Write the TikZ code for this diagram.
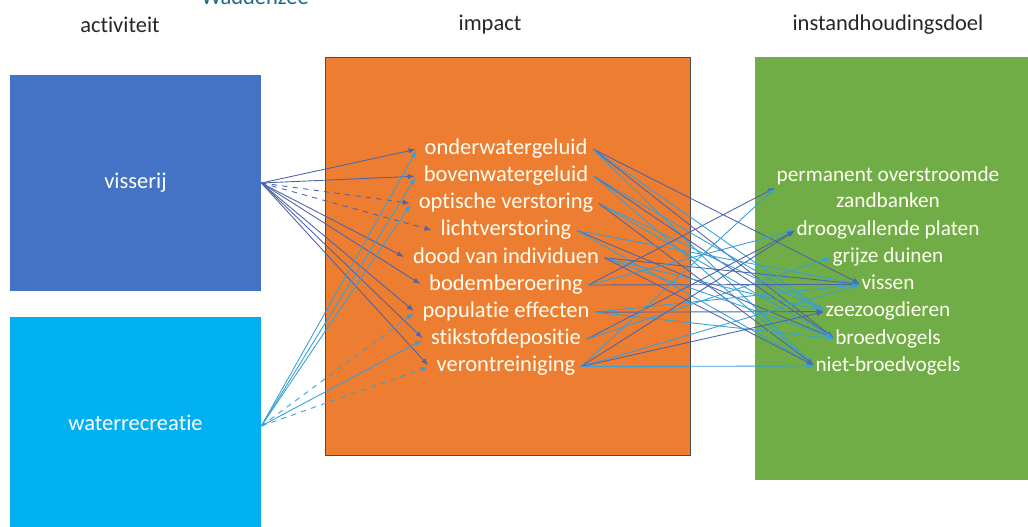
\documentclass[tikz,border=0pt]{standalone}
\usepackage{fontspec}
\setmainfont{Carlito}[Ligatures=NoCommon]
\setsansfont{Carlito}[Ligatures=NoCommon]
\usetikzlibrary{arrows.meta,positioning}
\definecolor{visblue}{RGB}{68,114,196}
\definecolor{recblue}{RGB}{0,176,240}
\definecolor{impactorange}{RGB}{237,125,49}
\definecolor{doelgreen}{RGB}{112,173,71}
\definecolor{headgray}{RGB}{38,38,38}
\definecolor{waddenteal}{RGB}{31,105,135}
\definecolor{vislink}{RGB}{78,100,170}
\definecolor{reclink}{RGB}{55,160,215}

\begin{document}
\begin{tikzpicture}[x=0.02cm, y=-0.02cm, font=\sffamily\fontsize{12.8}{14.7}\selectfont,
    head/.style={text=headgray},
    colbox/.style={rectangle, inner sep=0pt, text=white},
    item/.style={inner sep=0pt, text height=9pt, text depth=3pt, minimum height=0.53cm, text=white!95!yellow, align=center},
    doelitem/.style={item, font=\sffamily\fontsize{12.1}{14.7}\selectfont},
    link/.style={-{Latex[length=4pt,width=3pt]}, line width=0.5pt, shorten >=1pt}]
        \useasboundingbox (0,0) rectangle (1028,527);

        % headers
        \node[text=waddenteal] (wadden) at (255,-3) {Waddenzee};
        \node[head] (hact) at (120,25) {activiteit};
        \node[head] (himp) at (490,25) {impact};
        \node[head] (hdoel) at (888,25) {instandhoudingsdoel};

        % columns
        \node[colbox, fill=visblue, minimum width=5.02cm, minimum height=4.32cm] (vis) at (135.5,183) {visserij};
        \node[colbox, fill=recblue, minimum width=5.02cm, minimum height=4.36cm] (rec) at (135.5,426) {};
        \node[text=white] (reclabel) at (135.5,423) {waterrecreatie};
        \node[colbox, fill=impactorange, draw=gray!60!black, line width=0.4pt, minimum width=7.3cm, minimum height=7.96cm] (impact) at (507.5,256) {};
        \node[colbox, fill=doelgreen, minimum width=5.6cm, minimum height=8.46cm] (doel) at (895,268.5) {};

        % impact items
        \node[item] (imp1) at (506,149) {onderwatergeluid};
        \node[item, below=0pt of imp1] (imp2) {bovenwatergeluid};
        \node[item, below=0pt of imp2] (imp3) {optische verstoring};
        \node[item, below=0pt of imp3] (imp4) {lichtverstoring};
        \node[item, below=0pt of imp4] (imp5) {dood van individuen};
        \node[item, below=0pt of imp5] (imp6) {bodemberoering};
        \node[item, below=0pt of imp6] (imp7) {populatie effecten};
        \node[item, below=0pt of imp7] (imp8) {stikstofdepositie};
        \node[item, below=0pt of imp8] (imp9) {verontreiniging};

        % instandhoudingsdoelen
        \node[doelitem, text height=, text depth=] (doel1) at (888,187) {permanent overstroomde\\zandbanken};
        \node[doelitem] (doel2) at (888,230) {droogvallende platen};
        \node[doelitem, below=0pt of doel2] (doel3) {grijze duinen};
        \node[doelitem, below=0pt of doel3] (doel4) {vissen};
        \node[doelitem, below=0pt of doel4] (doel5) {zeezoogdieren};
        \node[doelitem, below=0pt of doel5] (doel6) {broedvogels};
        \node[doelitem, below=0pt of doel6] (doel7) {niet-broedvogels};

        % visserij -> impact
        \foreach \i/\s in {1/solid,2/solid,3/dashed,4/dashed,5/solid,6/solid,7/solid,8/solid,9/solid}
            \draw[link, vislink, \s] (vis.east) -- ([xshift=-4pt]imp\i.west);

        % waterrecreatie -> impact
        \foreach \i/\s in {1/solid,2/solid,3/solid,7/dashed,8/solid,9/dashed}
            \draw[link, reclink, \s] (rec.east) -- ([xshift=-4pt]imp\i.west);

        % impact -> instandhoudingsdoel
        \foreach \a/\b/\c in {1/4/vislink,1/5/reclink,1/6/vislink,1/7/reclink,
                              2/5/reclink,2/6/vislink,2/7/reclink,
                              3/5/reclink,3/6/reclink,3/7/vislink,
                              4/4/reclink,4/6/vislink,4/7/reclink,
                              5/4/vislink,5/5/reclink,5/6/reclink,5/7/vislink,
                              6/1/vislink,6/2/reclink,6/4/vislink,
                              7/4/reclink,7/5/vislink,7/6/reclink,
                              8/2/vislink,8/3/reclink,
                              9/1/reclink,9/2/vislink,9/4/reclink,9/5/vislink,9/7/reclink}
            \draw[link, \c] ([xshift=3pt]imp\a.east) -- (doel\b.west);
      \end{tikzpicture}
\end{document}
